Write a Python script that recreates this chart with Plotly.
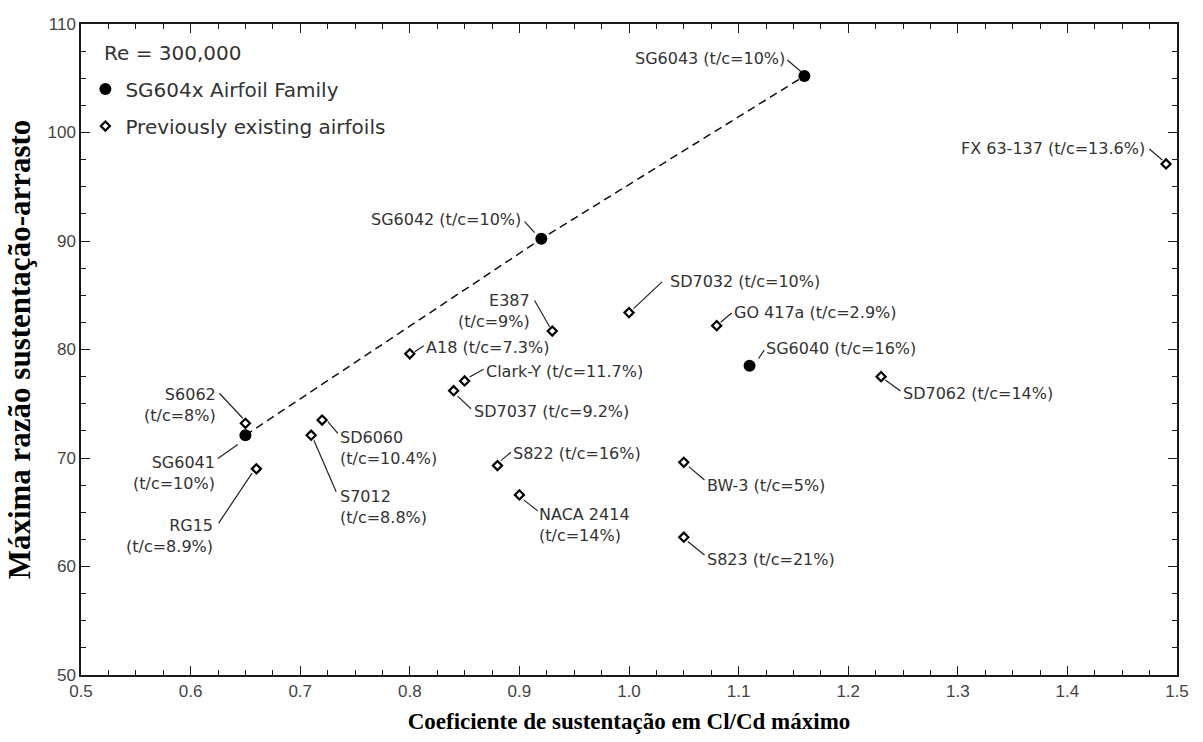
import plotly.graph_objects as go

# SG604x airfoil family at Re = 300,000
family_names = ["SG6040", "SG6041", "SG6042", "SG6043"]
family_cl = [1.11, 0.65, 0.92, 1.16]
family_ld = [78.5, 72.1, 90.2, 105.2]
family_labels = ["SG6040 (t/c=16%)", "SG6041<br>(t/c=10%)",
                 "SG6042 (t/c=10%)", "SG6043 (t/c=10%)"]

# Members joined by the dashed trend line
trend_names = ["SG6041", "SG6042", "SG6043"]

# Previously existing airfoils
other_names = ["FX 63-137", "SD7032", "GO 417a", "E387", "A18", "Clark-Y",
               "SD7037", "S6062", "SD6060", "S7012", "RG15", "S822",
               "NACA 2414", "BW-3", "S823", "SD7062"]
other_cl = [1.49, 1.00, 1.08, 0.93, 0.80, 0.85, 0.84, 0.65, 0.72, 0.71,
            0.66, 0.88, 0.90, 1.05, 1.05, 1.23]
other_ld = [97.1, 83.4, 82.2, 81.7, 79.6, 77.1, 76.2, 73.2, 73.5, 72.1,
            69.0, 69.3, 66.6, 69.6, 62.7, 77.5]
other_labels = ["FX 63-137 (t/c=13.6%)", "SD7032 (t/c=10%)",
                "GO 417a (t/c=2.9%)", "E387<br>(t/c=9%)", "A18 (t/c=7.3%)",
                "Clark-Y (t/c=11.7%)", "SD7037 (t/c=9.2%)", "S6062<br>(t/c=8%)",
                "SD6060<br>(t/c=10.4%)", "S7012<br>(t/c=8.8%)",
                "RG15<br>(t/c=8.9%)", "S822 (t/c=16%)", "NACA 2414<br>(t/c=14%)",
                "BW-3 (t/c=5%)", "S823 (t/c=21%)", "SD7062 (t/c=14%)"]

x_ticks = [0.5, 0.6, 0.7, 0.8, 0.9, 1.0, 1.1, 1.2, 1.3, 1.4, 1.5]
y_ticks = [50, 60, 70, 80, 90, 100, 110]

# Label placement in screen pixels relative to each marker (x right, y down):
# anchor side, text offset (dx, dy), leader line (x0, y0, x1, y1)
placement = {
    "SG6043":    ("right", -18, -18, (-17, -16, -3.3, -4.3)),
    "FX 63-137": ("right", -20, -15, (-16.7, -15, -3.7, -4)),
    "SG6042":    ("right", -19, -19, (-16.7, -17.3, -6.7, -6.3)),
    "SD7032":    ("left", 39.6, -30.7, (33, -30.7, 4.6, -4)),
    "GO 417a":   ("left", 16.6, -12.7, (15, -12.7, 4, -3.3)),
    "E387":      ("right", -21.7, -19.8, (-17.7, -30.6, -2.7, -4.3)),
    "A18":       ("left", 15, -6, (14, -8, 5, -2)),
    "Clark-Y":   ("left", 20.7, -9.4, (19, -11.7, 5, -4)),
    "SD7037":    ("left", 19, 21, (4, 5.4, 17.3, 18)),
    "S6062":     ("right", -28.3, -18.3, (-26, -30, -2.6, -5)),
    "SG6041":    ("right", -29.3, 37.3, (-27.6, 23.3, -7.6, 9.3)),
    "SD6060":    ("left", 17.3, 27.5, (5.7, 1.6, 15.7, 13.3)),
    "S7012":     ("left", 28.3, 72.1, (2.7, 5, 25, 56.6)),
    "RG15":      ("right", -42.7, 67.6, (-37.7, 54.3, -4.3, 4.3)),
    "S822":      ("left", 15, -11.7, (13.4, -13.4, 3.4, -5)),
    "NACA 2414": ("left", 18.3, 30, (4.3, 5, 18.3, 16)),
    "BW-3":      ("left", 21.7, 22.7, (5, 4.3, 20.7, 17.7)),
    "S823":      ("left", 21.7, 22.7, (4, 4.3, 20.7, 17.7)),
    "SG6040":    ("left", 15.7, -17.3, (14.7, -15.6, 9, -7.3)),
    "SD7062":    ("left", 21, 16.7, (4.3, 3.4, 19.3, 14.4)),
}

TEXT = "#333333"
LABEL_FONT = dict(family="DejaVu Sans", size=16, color=TEXT)

fig = go.Figure()

trend_x = [family_cl[family_names.index(n)] for n in trend_names]
trend_y = [family_ld[family_names.index(n)] for n in trend_names]
fig.add_trace(go.Scatter(
    x=trend_x, y=trend_y, mode="lines", showlegend=False, hoverinfo="skip",
    line=dict(color="#111111", width=1.5, dash="8px,5px"),
))

fig.add_trace(go.Scatter(
    x=family_cl, y=family_ld, mode="markers", name="SG604x Airfoil Family",
    legendgroup="family", text=family_names,
    marker=dict(symbol="circle", size=12, color="#000000"),
))
fig.add_trace(go.Scatter(
    x=other_cl, y=other_ld, mode="markers", name="Previously existing airfoils",
    legendgroup="other", text=other_names,
    marker=dict(symbol="diamond-open", size=7, color="#000000",
                line=dict(width=2.2, color="#000000")),
))

annotations = []
shapes = []
all_names = family_names + other_names
all_cl = family_cl + other_cl
all_ld = family_ld + other_ld
all_labels = family_labels + other_labels
for name, cx, cy, label in zip(all_names, all_cl, all_ld, all_labels):
    side, dx, dy, (lx0, ly0, lx1, ly1) = placement[name]
    annotations.append(dict(
        x=cx, y=cy, xref="x", yref="y", text=label, showarrow=False,
        xanchor=side, yanchor="middle", align=side, xshift=dx, yshift=-dy,
        font=LABEL_FONT, borderpad=0,
    ))
    shapes.append(dict(
        type="line", xref="x", yref="y", xsizemode="pixel", ysizemode="pixel",
        xanchor=cx, yanchor=cy, x0=lx0, y0=-ly0, x1=lx1, y1=-ly1,
        line=dict(color="#222222", width=1.2), layer="below",
    ))

annotations.append(dict(
    x=0.019, y=0.9556, xref="paper", yref="paper", text="Re = 300,000",
    showarrow=False, xanchor="left", yanchor="middle",
    font=dict(family="DejaVu Sans", size=20, color=TEXT),
))

axis_common = dict(
    showline=True, linecolor="#1a1a1a", linewidth=1.5, mirror="allticks",
    ticks="inside", ticklen=9, tickwidth=1.2, tickcolor="#1a1a1a",
    showgrid=False, zeroline=False,
    tickfont=dict(family="Liberation Sans", size=17, color="#444444"),
)

fig.update_xaxes(
    range=[0.5, 1.5], tickvals=x_ticks, ticktext=[f"{v:.1f}" for v in x_ticks],
    minor=dict(dtick=0.025, ticks="inside", ticklen=5, tickwidth=1.1,
               tickcolor="#1a1a1a"),
    title=dict(text="Coeficiente de sustentação em Cl/Cd máximo", standoff=13,
               font=dict(family="Liberation Serif", size=23, color="#000000",
                         weight="bold")),
    **axis_common,
)
fig.update_yaxes(
    range=[50, 110], tickvals=y_ticks, ticktext=[str(v) for v in y_ticks],
    minor=dict(dtick=2.5, ticks="inside", ticklen=5, tickwidth=1.1,
               tickcolor="#1a1a1a"),
    title=dict(text="Máxima razão sustentação-arrasto", standoff=8,
               font=dict(family="Liberation Serif", size=31, color="#000000",
                         weight="bold")),
    **axis_common,
)

fig.update_layout(
    width=1203, height=742,
    margin=dict(l=81, r=26, t=24, b=65),
    plot_bgcolor="#ffffff", paper_bgcolor="#ffffff",
    showlegend=True,
    legend=dict(
        x=0.004, y=0.93, xanchor="left", yanchor="top",
        bgcolor="rgba(0,0,0,0)", borderwidth=0, tracegroupgap=8,
        font=dict(family="DejaVu Sans", size=20, color=TEXT),
    ),
    annotations=annotations,
    shapes=shapes,
)

fig.write_html("out.html")
